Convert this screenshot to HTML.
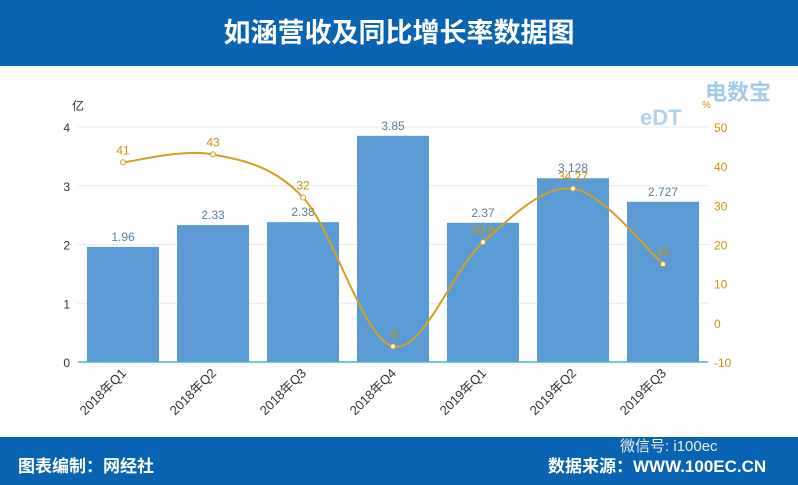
<!DOCTYPE html>
<html><head><meta charset="utf-8"><style>
body{margin:0;width:798px;height:485px;overflow:hidden;background:#fff;font-family:"Liberation Sans","Noto Sans CJK SC",sans-serif;}
#hdr{position:absolute;left:0;top:0;width:798px;height:66px;background:#0863b3;color:#fff;font:bold 27px "Liberation Sans","Noto Sans CJK SC",sans-serif;text-align:center;line-height:66px;}
#ftr{position:absolute;left:0;top:437px;width:798px;height:48px;background:#0863b3;color:#fff;font:bold 17px "Liberation Sans","Noto Sans CJK SC",sans-serif;}
svg{position:absolute;left:0;top:0}
</style></head><body>
<div id="hdr">如涵营收及同比增长率数据图</div>
<div id="ftr">
<span style="position:absolute;left:18px;top:15px">图表编制：网经社</span>
<span style="position:absolute;left:548px;top:15px">数据来源：WWW.100EC.CN</span>
<span style="position:absolute;left:620px;top:-2px;font-weight:normal;font-size:15px;color:#eee">微信号: i100ec</span>
</div>
<svg id="c" width="798" height="485"></svg>
<script>
const categories=["2018年Q1","2018年Q2","2018年Q3","2018年Q4","2019年Q1","2019年Q2","2019年Q3"];
const revenue=[1.96,2.33,2.38,3.85,2.37,3.128,2.727];
const revenueLabels=["1.96","2.33","2.38","3.85","2.37","3.128","2.727"];
const growth=[41,43,32,-6,20.6,34.27,15];
const growthLabels=["41","43","32","-6","20.6","34.27","15"];
const leftTicks=[0,1,2,3,4];
const rightTicks=[-10,0,10,20,30,40,50];
const NS="http://www.w3.org/2000/svg",svg=document.getElementById('c');
const X0=78,X1=708,Y0=362,Y1=127;
const bw=(X1-X0)/categories.length;
const xc=i=>X0+bw*(i+0.5);
const yL=v=>Y0-(v/4)*(Y0-Y1);
const yR=v=>Y0-((v+10)/60)*(Y0-Y1);
function mk(t,a,txt){const e=document.createElementNS(NS,t);for(const k in a)e.setAttribute(k,a[k]);if(txt!=null)e.textContent=txt;svg.appendChild(e);return e;}
leftTicks.forEach(v=>{
 if(v>0){const g=mk('line',{x1:X0,x2:X1,y1:yL(v),y2:yL(v),stroke:'#e8e8e8'});
 
 }
 const t=mk('text',{x:70,y:yL(v)+5,'text-anchor':'end','font-size':12,fill:'#333'},v);
 
 
});
rightTicks.forEach(v=>{
 const t=mk('text',{x:714,y:yR(v)+5,'font-size':12,fill:'#c8960c'},v);
 
 
});
let u=mk('text',{x:72,y:110,'font-size':12,fill:'#333'},'亿');


u=mk('text',{x:702,y:108,'font-size':10,fill:'#c8960c'},'%');


revenue.forEach((v,i)=>{
 const r=mk('rect',{x:xc(i)-36,y:yL(v),width:72,height:Y0-yL(v),fill:'#5b9bd5'});
 
 
 const t=mk('text',{x:xc(i),y:yL(v)-6,'text-anchor':'middle','font-size':12,fill:'#5a7fa0'},revenueLabels[i]);
 
 
 const l=mk('text',{x:xc(i)+4,y:Y0+12,'text-anchor':'end','font-size':13,fill:'#333',transform:`rotate(-45 ${xc(i)+4} ${Y0+12})`},categories[i]);
 
 
});
const ax=mk('line',{x1:X0,x2:X1,y1:Y0,y2:Y0,stroke:'#4fb3c8','stroke-width':1.5});


const pts=growth.map((v,i)=>[xc(i),yR(v)]);
let d='M'+pts[0][0]+','+pts[0][1];
for(let i=0;i<pts.length-1;i++){
 const p0=pts[Math.max(0,i-1)],p1=pts[i],p2=pts[i+1],p3=pts[Math.min(pts.length-1,i+2)];
 d+=` C${p1[0]+(p2[0]-p0[0])/6},${p1[1]+(p2[1]-p0[1])/6} ${p2[0]-(p3[0]-p1[0])/6},${p2[1]-(p3[1]-p1[1])/6} ${p2[0]},${p2[1]}`;
}
const ln=mk('path',{d:d,fill:'none',stroke:'#d4a020','stroke-width':2});


pts.forEach((p,i)=>{
 const c=mk('circle',{cx:p[0],cy:p[1],r:2.5,fill:'#fff',stroke:'#d4a020'});
 
 
 const t=mk('text',{x:p[0],y:p[1]-8,'text-anchor':'middle','font-size':12,fill:'#c8960c'},growthLabels[i]);
 
 
});
const lg=mk('text',{x:705,y:100,'font-size':22,'font-weight':'bold',fill:'#6aa9d8',opacity:0.6},'电数宝');


const lg2=mk('text',{x:640,y:125,'font-size':22,'font-weight':'bold',fill:'#6aa9d8',opacity:0.5},'eDT');


</script>
</body></html>
